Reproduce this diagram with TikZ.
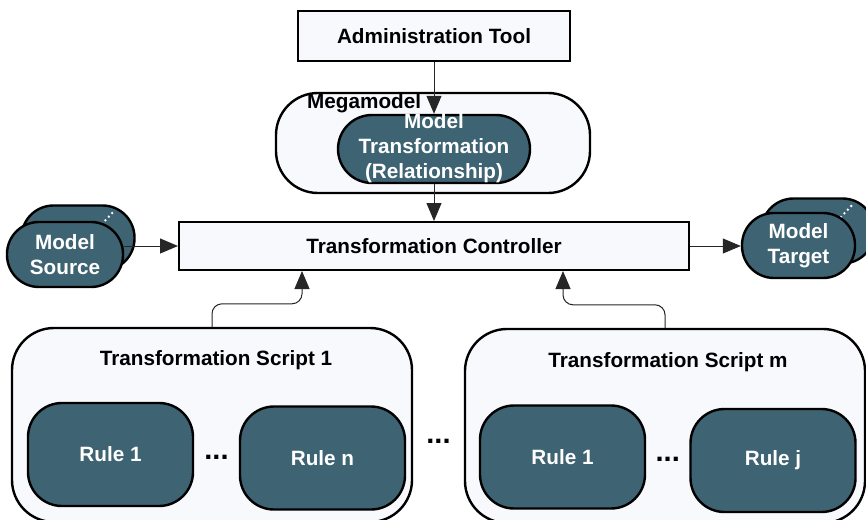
\documentclass[tikz,border=0pt]{standalone}
\usepackage{fontspec}
\setmainfont{Liberation Sans}
\usetikzlibrary{arrows.meta,calc}

\definecolor{boxfill}{RGB}{247,249,252}
\definecolor{rulefill}{RGB}{62,99,115}
\newcommand\lbl{\fontsize{20.7}{25}\selectfont\bfseries}
\newcommand\bigdots{\fontsize{29}{30}\selectfont ...}

\tikzset{
  plainbox/.style={draw, line width=2pt, fill=boxfill},
  roundbox/.style={draw, line width=2.4pt, fill=boxfill, rounded corners=42pt},
  pill/.style={draw, line width=2.4pt, fill=rulefill, text=white, align=center,
               rounded corners=32pt, minimum width=113pt, minimum height=65pt},
  rulebox/.style={draw, line width=2.4pt, fill=rulefill, text=white,
                  rounded corners=34pt, minimum width=165pt, minimum height=103pt},
  link/.style={draw=black!85, line width=1pt, -{Triangle[length=18pt,width=15pt]}},
  moredots/.style={white, line width=2.6pt, line cap=round, dash pattern=on 0pt off 5pt},
}

\begin{document}
\begin{tikzpicture}[x=1pt, y=-1pt, font=\lbl]
  \useasboundingbox (0,0) rectangle (866,519);

  % top: tool and megamodel
  \node[plainbox, minimum width=272pt, minimum height=49pt] (admin) at (434,36) {Administration Tool};
  \node[roundbox, minimum width=314pt, minimum height=100pt] (mega) at (433,143) {};
  \node[anchor=west, inner sep=0pt] (megalbl) at (307,103) {Megamodel};
  \node[pill, rounded corners=34pt, minimum width=192pt, minimum height=68pt] (mt) at (434,149) {};
  \node[text=white, align=center, inner sep=0pt] (mttext) at (434,148) {Model\\Transformation\\(Relationship)};

  % middle row
  \node[plainbox, minimum width=510pt, minimum height=48pt] (ctrl) at (434,246) {Transformation Controller};

  \node[pill] (srcback) at (78,238) {};
  \draw[moredots] (102,224) -- (115,210);
  \node[pill, minimum width=116pt] (srcfront) at (65,254.5) {Model\\Source};

  \node[pill] (tgtback) at (818,231) {};
  \draw[moredots] (841,217) -- (854,203);
  \node[pill] (tgtfront) at (798.5,245.5) {Model\\Target};

  % scripts with their rules
  \node[roundbox, minimum width=400pt, minimum height=194pt] (s1) at (212,425) {};
  \node (s1title) at (216,360) {Transformation Script 1};
  \node[rulebox] (r11) at (110.5,454.5) {Rule 1};
  \node[rulebox] (r1n) at (322.5,458) {Rule n};
  \node (dots1) at ($(r11.east)!0.5!(r1n.west)+(0,1)$) {\bigdots};

  \node[roundbox, minimum width=400pt, minimum height=194pt] (sm) at (665,426) {};
  \node (smtitle) at (668,362) {Transformation Script m};
  \node[rulebox] (rm1) at (562.5,457) {Rule 1};
  \node[rulebox] (rmj) at (773,460.5) {Rule j};
  \node (dots2) at ($(rm1.east)!0.5!(rmj.west)+(0,1)$) {\bigdots};

  \node (dots) at ($(s1.east)!0.5!(sm.west)+(0,16)$) {\bigdots};

  % connectors
  \draw[link] (admin) -- (mt);
  \draw[link] (mt) -- (ctrl);
  \draw[link] (ctrl.west -| srcfront.east) -- (ctrl.west);
  \draw[link] (ctrl.east) -- (ctrl.east -| tgtfront.west);
  \draw[link, rounded corners=10pt] (s1.north) -- ++(0,-23) -| ($(ctrl.south)+(-132,0)$);
  \draw[link, rounded corners=10pt] (sm.north) -- ++(0,-23) -| ($(ctrl.south)+(129,0)$);
\end{tikzpicture}
\end{document}
